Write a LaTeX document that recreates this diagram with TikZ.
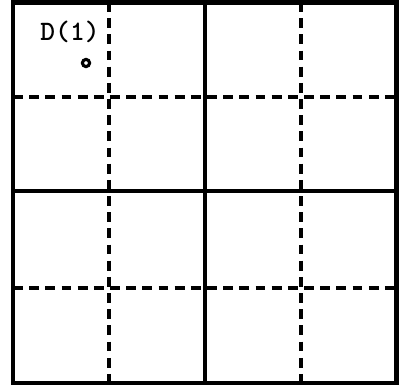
\documentclass[tikz,border=0pt]{standalone}
\usetikzlibrary{positioning}

\begin{document}
\begin{tikzpicture}[
    x=0.025cm, y=-0.025cm,
    frame/.style={line width=3pt},
    solidline/.style={line width=2.2pt},
    dashline/.style={line width=2.2pt, dash pattern=on 7pt off 4.5pt},
    mark label/.style={font=\ttfamily\bfseries\fontsize{20}{22}\selectfont, inner sep=0pt}
]
    \useasboundingbox (0,0) rectangle (400,387);

    % dashed quarter lines
    \draw[dashline] (109,2) -- (109,383);
    \draw[dashline] (301,2) -- (301,383);
    \draw[dashline] (13,97) -- (397,97);
    \draw[dashline] (13,288) -- (397,288);

    % solid half lines
    \draw[solidline] (205,2) -- (205,383);
    \draw[solidline] (13,191) -- (397,191);

    % outer frame
    \draw[frame] (13,2.5) rectangle (396.5,383);

    \node[mark label] (dlabel) at (70,32) {D(1)};
    \draw[line width=2.2pt] (86,63) circle [radius=0.09cm];
\end{tikzpicture}
\end{document}
